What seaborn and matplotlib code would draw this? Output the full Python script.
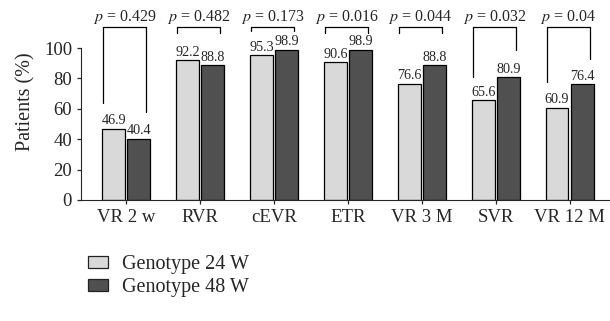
import pandas as pd
import matplotlib.pyplot as plt
import seaborn as sns
from matplotlib.patches import Patch

# data
categories = ["VR 2 w", "RVR", "cEVR", "ETR", "VR 3 M", "SVR", "VR 12 M"]
g24 = [46.9, 92.2, 95.3, 90.6, 76.6, 65.6, 60.9]
g48 = [40.4, 88.8, 98.9, 98.9, 88.8, 80.9, 76.4]
p_values = ["0.429", "0.482", "0.173", "0.016", "0.044", "0.032", "0.04"]
# bracket leg ends (left, right) in data units
leg_left = [64, 110, 111, 110, 110, 81, 78]
leg_right = [58, 110, 111, 110, 110, 99, 93]
groups = ["Genotype 24 W", "Genotype 48 W"]

df = pd.DataFrame({
    "cat": categories * 2,
    "val": g24 + g48,
    "grp": [groups[0]] * len(categories) + [groups[1]] * len(categories),
})

sns.set_style("ticks")
plt.rcParams["font.family"] = ["Liberation Serif", "DejaVu Serif"]
plt.rcParams["mathtext.fontset"] = "stix"

fig = plt.figure(figsize=(6.10, 3.21), dpi=100)
ax = fig.add_axes([0.133, 0.377, 0.865, 0.615])

sns.barplot(data=df, x="cat", y="val", hue="grp", order=categories,
            palette=["#d9d9d9", "#505050"], edgecolor="black", linewidth=0.9,
            width=0.68, gap=0.09, ax=ax, legend=False)

for cont in ax.containers:
    ax.bar_label(cont, fmt="%.1f", fontsize=10.2, padding=1)

for i, p in enumerate(p_values):
    top = 114
    x0, x1 = i - 0.31, i + 0.27
    ax.plot([x0, x0, x1, x1], [leg_left[i], top, top, leg_right[i]],
            color="black", lw=0.9, clip_on=False)
    ax.text(i - 0.02, top + 0.5, r"$p$ = " + p, ha="center", va="bottom",
            fontsize=11.5, clip_on=False)

ax.set_ylim(0, 130)
ax.set_xlim(-0.61, 6.53)
ax.set_yticks([0, 20, 40, 60, 80, 100])
ax.spines["left"].set_bounds(0, 100)
ax.spines["top"].set_visible(False)
ax.spines["right"].set_visible(False)
ax.set_xlabel("")
ax.set_ylabel("Patients (%)", fontsize=14.5, labelpad=6)
ax.tick_params(axis="both", labelsize=13.5, length=3, width=0.9)

handles = [Patch(facecolor=c, edgecolor="#222222", linewidth=0.9)
           for c in ["#d9d9d9", "#505050"]]
fig.legend(handles, groups, loc="upper left", bbox_to_anchor=(0.144, 0.206),
           frameon=False, fontsize=14.5, handlelength=1.0, handleheight=0.55,
           labelspacing=0.2, borderpad=0, borderaxespad=0, handletextpad=0.7)

fig.savefig("out.png", dpi=100)
